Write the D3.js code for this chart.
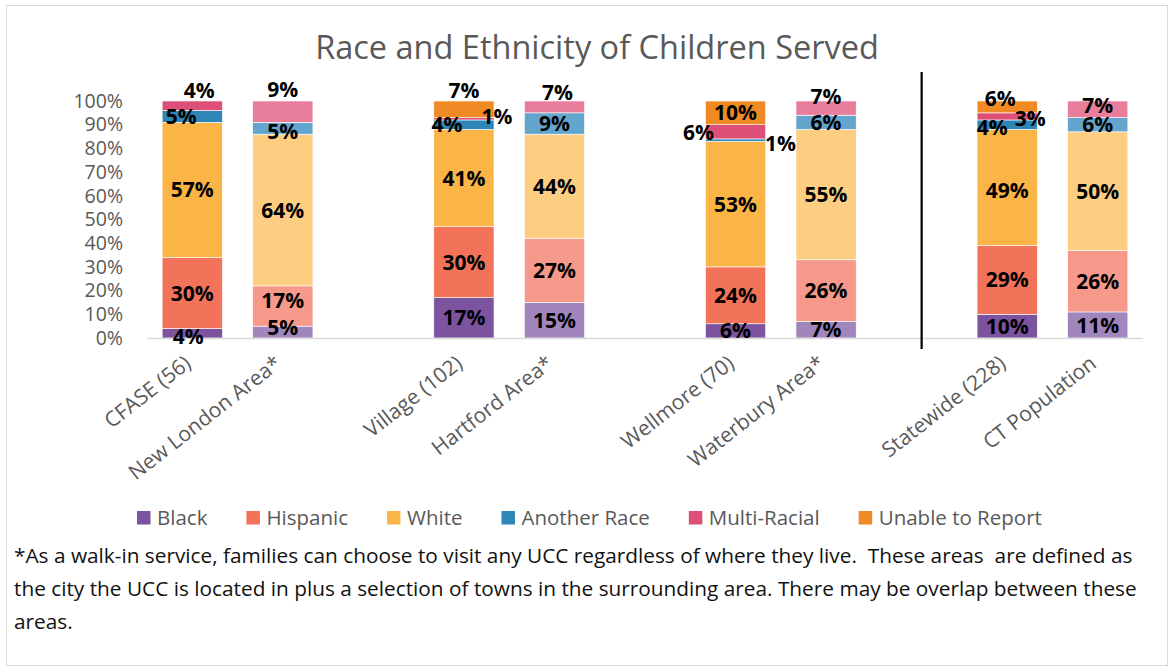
<!DOCTYPE html>
<html>
<head>
<meta charset="utf-8">
<script src="https://cdn.jsdelivr.net/npm/d3@7"></script>
<style>
  html, body { margin: 0; padding: 0; background: #fff; }
  svg { display: block; }
  text { white-space: pre; }
</style>
</head>
<body>
<svg id="chart" width="1174" height="671"></svg>
<script>
// ---------- DATA ----------
const title = "Race and Ethnicity of Children Served";
const categories = ["CFASE (56)", "New London Area*", "Village (102)", "Hartford Area*",
                    "Wellmore (70)", "Waterbury Area*", "Statewide (228)", "CT Population"];
const isComparison = [false, true, false, true, false, true, false, true];
const seriesNames = ["Black", "Hispanic", "White", "Another Race", "Multi-Racial", "Unable to Report"];
const black    = [4, 5, 17, 15, 6, 7, 10, 11];
const hispanic = [30, 17, 30, 27, 24, 26, 29, 26];
const white    = [57, 64, 41, 44, 53, 55, 49, 50];
const another  = [5, 5, 4, 9, 1, 6, 4, 6];
const multi    = [4, 9, 1, 7, 6, 7, 3, 7];
const unable   = [0, 0, 7, 0, 10, 0, 6, 0];
const yTicks = [0, 10, 20, 30, 40, 50, 60, 70, 80, 90, 100];
const footnote = [
  "*As a walk-in service, families can choose to visit any UCC regardless of where they live.  These areas  are defined as",
  "the city the UCC is located in plus a selection of towns in the surrounding area. There may be overlap between these",
  "areas."
];

// ---------- STYLE ----------
const colors = ["#7B539F", "#F2735A", "#FBB446", "#2E86B7", "#DE4F78", "#F08A24"];
const lightColors = ["#A086BC", "#F6988A", "#FDCD82", "#63A5CD", "#E87E9C", "#F5AD66"];
const gray = "#595959";
// manual data-label nudges (dx, dy) keyed "category|series"
const labelNudge = {
  "0|4": [7, -15], "0|3": [-11, 0], "0|0": [-4, 3],
  "1|4": [0, -22], "1|3": [0, 3], "1|1": [0, -6], "1|0": [0, -5],
  "2|5": [0, -19], "2|3": [-17, 0], "2|4": [33, -2],
  "3|4": [3, -14],
  "4|4": [-37, 1], "4|3": [45, 3],
  "5|4": [0, -12],
  "6|5": [-7, -8], "6|3": [-15, 3], "6|4": [23, 2], "6|2": [0, 3],
  "7|4": [0, -4]
};

const svg = d3.select("#chart");

// frame
svg.append("rect").attr("x", 6.5).attr("y", 5.5).attr("width", 1161).attr("height", 660)
  .attr("fill", "none").attr("stroke", "#d9d9d9").attr("stroke-width", 1);

// title
svg.append("text").attr("x", 597).attr("y", 59).attr("text-anchor", "middle")
  .attr("font-family", "Open Sans").attr("font-size", 32.5).attr("fill", gray).text(title);

// scales
const slotOf = i => i + Math.floor(i / 2);
const x = d3.scaleBand().domain(d3.range(11)).range([147, 1143]).paddingInner(0.335).paddingOuter(0.1675);
const y = d3.scaleLinear().domain([0, 100]).range([338, 101]).clamp(true);

// y axis
const yAxis = d3.axisLeft(y).tickValues(yTicks).tickFormat(d => d + "%").tickSize(0).tickPadding(24);
const yg = svg.append("g").attr("transform", "translate(147,0)").call(yAxis);
yg.select(".domain").remove();
yg.selectAll("text").attr("font-family", "Open Sans").attr("font-size", 19.5).attr("fill", gray);

// stacked data
const table = categories.map((c, i) => ({
  idx: i, cat: c,
  s0: black[i], s1: hispanic[i], s2: white[i], s3: another[i], s4: multi[i], s5: unable[i]
}));
const keys = ["s0", "s1", "s2", "s3", "s4", "s5"];
const stacked = d3.stack().keys(keys)(table);

const bars = svg.append("g");
stacked.forEach((layer, k) => {
  bars.selectAll(null).data(layer).join("rect")
    .attr("x", d => x(slotOf(d.data.idx)))
    .attr("width", x.bandwidth())
    .attr("y", d => y(d[1]))
    .attr("height", d => y(d[0]) - y(d[1]))
    .attr("fill", d => isComparison[d.data.idx] ? lightColors[k] : colors[k])
    .attr("stroke", "#fff").attr("stroke-width", 0.6);
});

// x baseline
svg.append("line").attr("x1", 147).attr("x2", 1143).attr("y1", y(0) + 0.5).attr("y2", y(0) + 0.5)
  .attr("stroke", "#d9d9d9").attr("stroke-width", 1.5);

// separator line
const sepX = x(8) + x.bandwidth() / 2 + 5;
svg.append("line").attr("x1", sepX).attr("x2", sepX).attr("y1", 72).attr("y2", 349)
  .attr("stroke", "#000").attr("stroke-width", 2.2);

// data labels
const labels = svg.append("g");
stacked.forEach((layer, k) => {
  labels.selectAll(null).data(layer.filter(d => d[1] - d[0] > 0)).join("text")
    .attr("x", d => {
      const n = labelNudge[d.data.idx + "|" + k] || [0, 0];
      return x(slotOf(d.data.idx)) + x.bandwidth() / 2 + n[0];
    })
    .attr("y", d => {
      const n = labelNudge[d.data.idx + "|" + k] || [0, 0];
      return (y(d[0]) + y(d[1])) / 2 + n[1];
    })
    .attr("dy", "0.36em")
    .attr("text-anchor", "middle")
    .attr("font-family", "Open Sans")
    .attr("font-weight", "bold").attr("font-size", 21).attr("fill", "#000")
    .text(d => (d.data["s" + k]) + "%");
});

// x labels
svg.append("g").selectAll("text").data(categories).join("text")
  .attr("transform", (d, i) => `translate(${x(slotOf(i)) + x.bandwidth() / 2},366) rotate(-38)`)
  .attr("text-anchor", "end")
  .attr("font-family", "Open Sans").attr("font-size", 21).attr("fill", gray)
  .text(d => d);

// legend
const legend = svg.append("g").attr("transform", "translate(137,518)");
let lx = 0;
seriesNames.forEach((name, k) => {
  const g = legend.append("g").attr("transform", `translate(${lx},0)`);
  g.append("rect").attr("x", 0).attr("y", -7).attr("width", 13.5).attr("height", 13.5).attr("fill", colors[k]);
  const t = g.append("text").attr("x", 20).attr("y", 0).attr("dy", "0.35em")
    .attr("font-family", "Open Sans").attr("font-size", 20.5).attr("fill", gray).text(name);
  lx += 20 + t.node().getComputedTextLength() + 39;
});

// footnote
const fn = svg.append("g");
footnote.forEach((line, i) => {
  fn.append("text").attr("x", 14).attr("y", 563 + i * 33)
    .attr("font-family", "Open Sans").attr("font-size", 20.8).attr("fill", "#111")
    .text(line);
});
</script>
</body>
</html>
